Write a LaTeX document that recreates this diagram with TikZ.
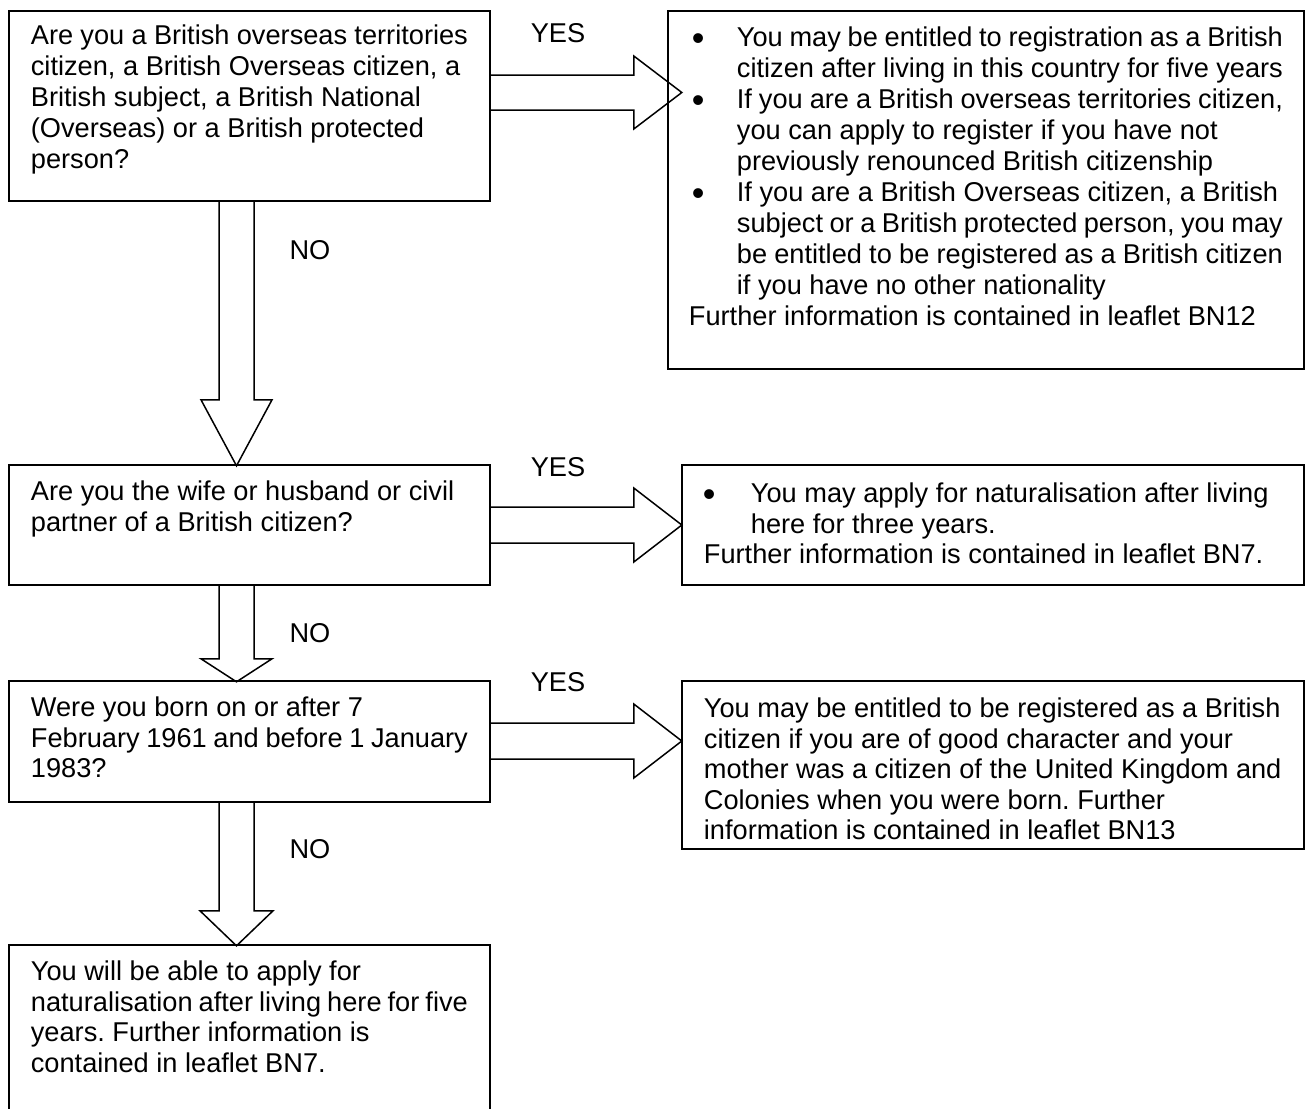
\documentclass[tikz,border=0pt]{standalone}
\usepackage{fontspec}
\setmainfont{Liberation Sans}
\usetikzlibrary{calc}
\frenchspacing
\newlength\bulind
\newlength\bulpre
\newcommand{\bigbul}{\raisebox{-1.6pt}{\fontsize{18pt}{18pt}\selectfont\textbullet}}
\newcommand{\bl}[1]{\makebox[\bulind][l]{\hspace*{\bulpre}\bigbul}#1}
\newcommand{\cl}[1]{\hspace*{\bulind}#1}
\begin{document}
\begin{tikzpicture}[x=0.5pt,y=-0.5pt,
  box/.style={draw, line width=0.9pt, anchor=north west, inner ysep=0pt,
    font=\fontsize{13.6pt}{15.25pt}\selectfont},
  blk/.style={draw, line width=0.75pt, line join=miter},
  lbl/.style={font=\fontsize{13.6pt}{15.25pt}\selectfont, inner sep=0pt}]
\useasboundingbox (0,0) rectangle (1305,1108);
\clip (0,0) rectangle (1305,1108);

% left column (questions)
\node[box, inner xsep=11pt, text height=17pt, text depth=78pt] (q1) at (8,10)
 {\begin{minipage}[t]{218.5pt}\fontsize{13.6pt}{15.5pt}\selectfont
 Are you a British overseas territories\\
 citizen, a British Overseas citizen, a\\
 British subject, a British National\\
 (Overseas) or a British protected\\
 person?\end{minipage}};

\node[box, inner xsep=11pt, text height=18pt, text depth=42pt] (q2) at (8,464)
 {\begin{minipage}[t]{218.5pt}
 Are you the wife or husband or civil\\
 partner of a British citizen?\end{minipage}};

\node[box, inner xsep=11pt, text height=18pt, text depth=42.5pt] (q3) at (8,680)
 {\begin{minipage}[t]{218.5pt}
 Were you born on or after 7\\
 February 1961 and before 1 January\\
 1983?\end{minipage}};

\node[box, inner xsep=11pt, text height=18pt, text depth=75pt] (q4) at (8,944)
 {\begin{minipage}[t]{218.5pt}
 You will be able to apply for\\
 naturalisation after living here for five\\
 years. Further information is\\
 contained in leaflet BN7.\end{minipage}};

% right column (answers)
\node[box, inner xsep=10.5pt, text height=18pt, text depth=161pt] (r1) at (667,10)
 {\begin{minipage}[t]{297pt}\fontsize{13.6pt}{15.5pt}\selectfont
 \setlength\bulind{24pt}\setlength\bulpre{1.5pt}%
 \bl{You may be entitled to registration as a British}\\
 \cl{citizen after living in this country for five years}\\
 \bl{If you are a British overseas territories citizen,}\\
 \cl{you can apply to register if you have not}\\
 \cl{previously renounced British citizenship}\\
 \bl{If you are a British Overseas citizen, a British}\\
 \cl{subject or a British protected person, you may}\\
 \cl{be entitled to be registered as a British citizen}\\
 \cl{if you have no other nationality}\\
 Further information is contained in leaflet BN12\end{minipage}};

\node[box, inner xsep=11pt, text height=19pt, text depth=41pt] (r2) at (681,464)
 {\begin{minipage}[t]{289pt}
 \setlength\bulind{23.5pt}\setlength\bulpre{-0.5pt}%
 \bl{You may apply for naturalisation after living}\\
 \cl{here for three years.}\\
 Further information is contained in leaflet BN7.\end{minipage}};

\node[box, inner xsep=11pt, text height=18.5pt, text depth=65.5pt] (r3) at (681,680)
 {\begin{minipage}[t]{289pt}
 You may be entitled to be registered as a British\\
 citizen if you are of good character and your\\
 mother was a citizen of the United Kingdom and\\
 Colonies when you were born. Further\\
 information is contained in leaflet BN13\end{minipage}};

% YES block arrows
\draw[blk] ($(q1.north east)+(0,65)$) -- ++(143,0) -- ++(0,-19) -- ++(48,36.5)
  -- ++(-48,36.5) -- ++(0,-19) -- ++(-143,0);
\draw[blk] ($(q2.north east)+(0,43)$) -- ++(143,0) -- ++(0,-19) -- ++(48,37)
  -- ++(-48,37) -- ++(0,-19) -- ++(-143,0);
\draw[blk] ($(q3.north east)+(0,43)$) -- ++(143,0) -- ++(0,-19) -- ++(48,37)
  -- ++(-48,37) -- ++(0,-19) -- ++(-143,0);

% NO block arrows
\draw[blk] ($(q1.south west)+(211,0)$) -- ++(0,198) -- ++(-18,0) -- ++(35.5,66)
  -- ++(35.5,-66) -- ++(-18,0) -- ++(0,-198);
\draw[blk] ($(q2.south west)+(211,0)$) -- ++(0,73) -- ++(-18,0) -- ++(35.5,23)
  -- ++(35.5,-23) -- ++(-18,0) -- ++(0,-73);
\draw[blk] ($(q3.south west)+(211,0)$) -- ++(0,108) -- ++(-19,0) -- ++(36.5,35)
  -- ++(36.5,-35) -- ++(-19,0) -- ++(0,-108);

% labels
\node[lbl] (yes1) at (558,33) {YES};
\node[lbl] (yes2) at (558,467) {YES};
\node[lbl] (yes3) at (558,682) {YES};
\node[lbl] (no1) at (310,250) {NO};
\node[lbl] (no2) at (310,633) {NO};
\node[lbl] (no3) at (310,849) {NO};
\end{tikzpicture}
\end{document}
